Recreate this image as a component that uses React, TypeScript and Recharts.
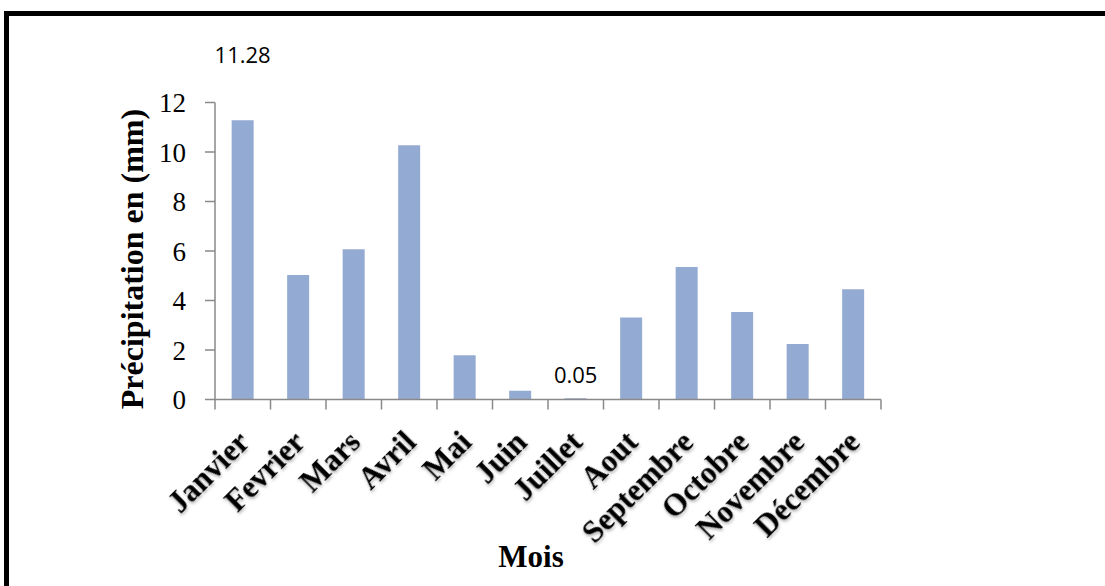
import { BarChart, Bar, XAxis, YAxis, LabelList } from "recharts";

const months = [
  "Janvier",
  "Fevrier",
  "Mars",
  "Avril",
  "Mai",
  "Juin",
  "Juillet",
  "Aout",
  "Septembre",
  "Octobre",
  "Novembre",
  "Décembre",
];
const precipitation = [11.28, 5.03, 6.07, 10.27, 1.79, 0.35, 0.05, 3.31, 5.35, 3.54, 2.24, 4.45];
const yTicks = [0, 2, 4, 6, 8, 10, 12];
const labelledMonths = ["Janvier", "Juillet"];

const data = months.map((m, i) => ({ month: m, value: precipitation[i] }));

const AXIS = "#898989";
const SERIF = "'Liberation Serif', 'Times New Roman', serif";
// vertical offset of each floating data label above its bar
const labelDy: Record<string, number> = { Janvier: -57, Juillet: -15 };

function MonthTick({ x, y, payload, index, width, visibleTicksCount }: any) {
  // Excel-style ticks sit between categories, not under them
  const band = width / (visibleTicksCount || months.length);
  const left = x - band / 2;
  const right = x + band / 2;
  const ax = x + 1;
  const ay = y + 37;
  return (
    <g>
      <line x1={left} y1={y} x2={left} y2={y + 10} stroke={AXIS} strokeWidth={1.5} />
      {index === months.length - 1 && (
        <line x1={right} y1={y} x2={right} y2={y + 10} stroke={AXIS} strokeWidth={1.5} />
      )}
      <text
        x={ax}
        y={ay}
        transform={`rotate(-45, ${ax}, ${ay})`}
        textAnchor="end"
        dominantBaseline="central"
        fontFamily={SERIF}
        fontWeight="bold"
        fontSize={31}
        fill="#000"
        style={{ filter: "drop-shadow(-1px 2px 1.5px rgba(0,0,0,0.3))" }}
      >
        {payload.value}
      </text>
    </g>
  );
}

function ValueLabel({ x, y, width, value, index }: any) {
  const month = months[index];
  if (!labelledMonths.includes(month)) return null;
  return (
    <text
      x={x + width / 2}
      y={y + labelDy[month]}
      textAnchor="middle"
      fontFamily="'Open Sans', sans-serif"
      fontSize={22}
      fill="#000"
    >
      {value.toFixed(2)}
    </text>
  );
}

function YTitle({ viewBox }: any) {
  const cx = viewBox.x + 132;
  const cy = viewBox.y + viewBox.height / 2 + 8;
  return (
    <text
      x={cx}
      y={cy}
      transform={`rotate(-90, ${cx}, ${cy})`}
      textAnchor="middle"
      dominantBaseline="central"
      fontFamily={SERIF}
      fontWeight="bold"
      fontSize={32}
      fill="#000"
    >
      Précipitation en (mm)
    </text>
  );
}

function XTitle({ viewBox }: any) {
  return (
    <text
      x={viewBox.x + viewBox.width / 2 - 17}
      y={viewBox.y + viewBox.height - 19}
      textAnchor="middle"
      fontFamily={SERIF}
      fontWeight="bold"
      fontSize={31}
      fill="#000"
    >
      Mois
    </text>
  );
}

export default function App() {
  return (
    <div
      style={{
        position: "fixed",
        left: 0,
        top: 0,
        width: 1105,
        height: 586,
        background: "#fff",
        overflow: "hidden",
      }}
    >
      <div
        style={{
          position: "absolute",
          left: 4,
          top: 11,
          width: 1105,
          height: 586,
          borderTop: "5px solid #000",
          borderLeft: "5px solid #000",
        }}
      />
      <div style={{ position: "absolute", left: 0, top: 0 }}>
        <BarChart
          width={1105}
          height={586}
          data={data}
          margin={{ top: 102.5, right: 224, bottom: 0, left: 0 }}
          barCategoryGap="30%"
        >
          <XAxis
            dataKey="month"
            interval={0}
            axisLine={{ stroke: AXIS, strokeWidth: 1.5 }}
            tickLine={false}
            tickSize={0}
            tickMargin={0}
            height={186.5}
            tick={<MonthTick />}
            label={<XTitle />}
          />
          <YAxis
            domain={[0, 12]}
            ticks={yTicks}
            width={215}
            tickSize={10}
            tickMargin={19}
            stroke={AXIS}
            axisLine={{ stroke: AXIS, strokeWidth: 1.5 }}
            tickLine={{ stroke: AXIS, strokeWidth: 1.5 }}
            tick={{ fill: "#000", fontFamily: SERIF, fontSize: 27 }}
            label={<YTitle />}
          />
          <Bar dataKey="value" fill="#93ABD3" isAnimationActive={false}>
            <LabelList dataKey="value" content={<ValueLabel />} />
          </Bar>
        </BarChart>
      </div>
    </div>
  );
}
